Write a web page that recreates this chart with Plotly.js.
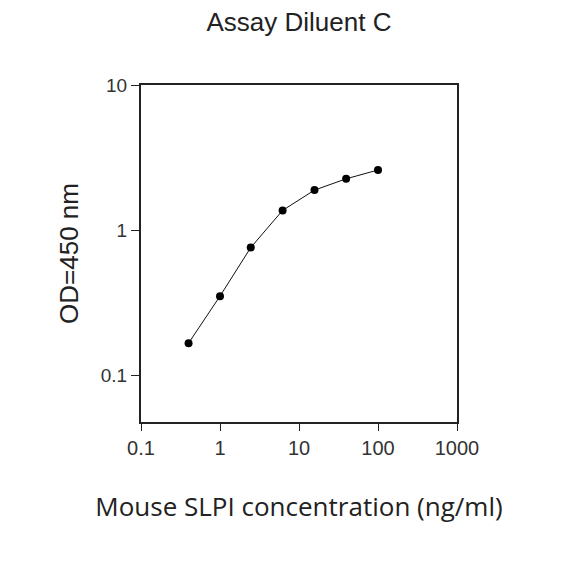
<!DOCTYPE html>
<html>
<head>
<meta charset="utf-8">
<script src="https://cdn.plot.ly/plotly-3.0.1.min.js"></script>
<style>
  html, body { margin: 0; padding: 0; background: #fff; }
  #chart { width: 584px; height: 584px; }
</style>
</head>
<body>
<div id="chart"></div>
<script>
// standard curve, 2.5-fold dilutions
var concentration = [0.4, 1.0, 2.45, 6.2, 15.7, 39.5, 100];
var od450 = [0.167, 0.352, 0.76, 1.37, 1.89, 2.26, 2.6];

var xTickVals = [0.1, 1, 10, 100, 1000];
var xTickText = ['0.1', '1', '10', '100', '1000'];
var yTickVals = [0.1, 1, 10];
var yTickText = ['0.1', '1', '10'];

var trace = {
    x: concentration,
    y: od450,
    mode: 'lines+markers',
    type: 'scatter',
    line: {color: '#111', width: 1},
    marker: {color: '#000', size: 8}
};

var layout = {
    width: 584,
    height: 584,
    showlegend: false,
    paper_bgcolor: '#fff',
    plot_bgcolor: '#fff',
    margin: {l: 141, r: 127, t: 85, b: 162, pad: 0},
    title: {
        text: 'Assay Diluent C',
        font: {family: 'Liberation Sans, Arial, sans-serif', size: 26, color: '#222'},
        x: 0.5,
        xref: 'paper',
        xanchor: 'center',
        y: 0.962,
        yref: 'container',
        yanchor: 'middle'
    },
    xaxis: {
        type: 'log',
        range: [-1, 3],
        tickmode: 'array',
        tickvals: xTickVals,
        ticktext: xTickText,
        ticks: 'outside',
        ticklen: 7,
        tickcolor: '#222',
        tickfont: {family: 'Liberation Sans, Arial, sans-serif', size: 20, color: '#333'},
        showline: true,
        linecolor: '#222',
        linewidth: 2,
        mirror: true,
        showgrid: false,
        zeroline: false,
        title: {
            text: 'Mouse SLPI concentration (ng/ml)',
            font: {family: 'Open Sans, sans-serif', size: 26, color: '#222'},
            standoff: 40
        }
    },
    yaxis: {
        type: 'log',
        range: [-1.32, 1],
        tickmode: 'array',
        tickvals: yTickVals,
        ticktext: yTickText,
        ticks: 'outside',
        ticklen: 8,
        tickcolor: '#222',
        tickfont: {family: 'Liberation Sans, Arial, sans-serif', size: 19, color: '#333'},
        showline: true,
        linecolor: '#222',
        linewidth: 2,
        mirror: true,
        showgrid: false,
        zeroline: false,
        title: {
            text: 'OD=450 nm',
            font: {family: 'Liberation Sans, Arial, sans-serif', size: 26, color: '#222'},
            standoff: 15
        }
    }
};

Plotly.newPlot('chart', [trace], layout, {displayModeBar: false, staticPlot: true});
</script>
</body>
</html>
